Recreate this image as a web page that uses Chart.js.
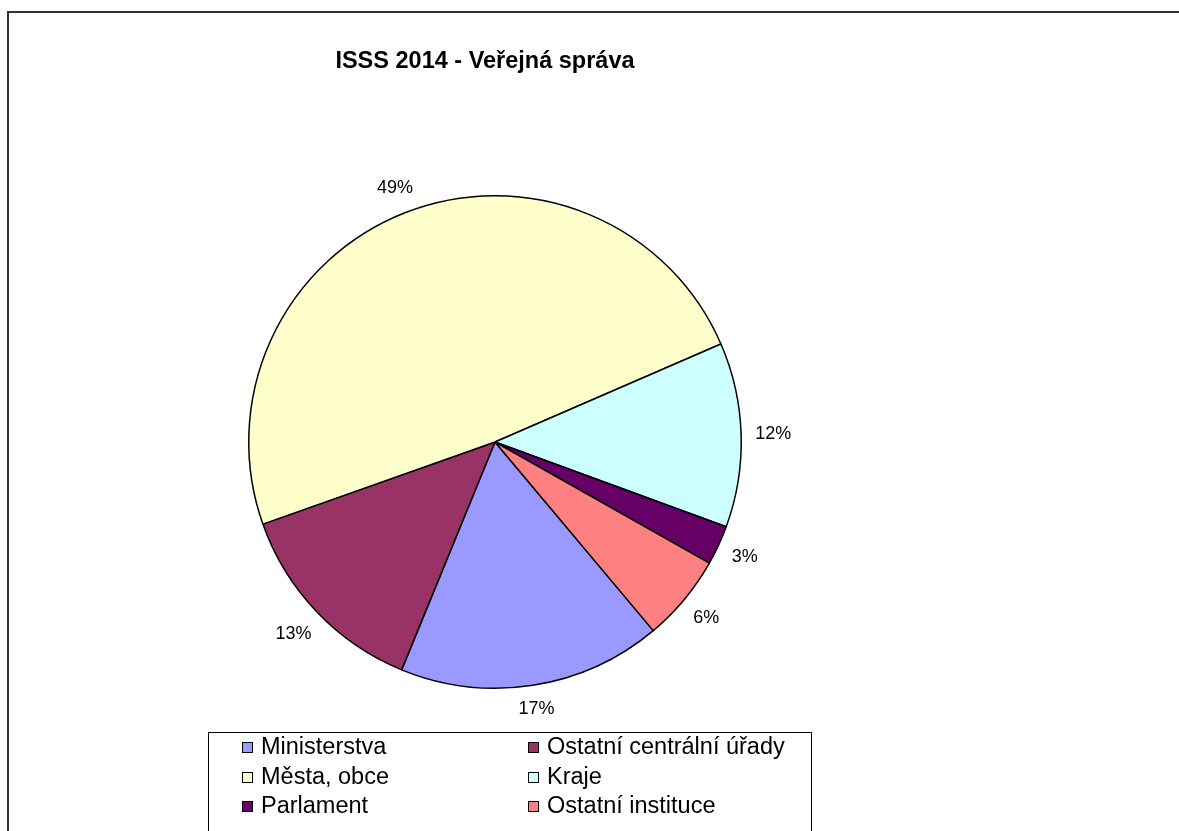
<!DOCTYPE html>
<html>
<head>
<meta charset="utf-8">
<script src="https://cdn.jsdelivr.net/npm/chart.js@4/dist/chart.umd.min.js"></script>
<style>
  html, body { margin: 0; padding: 0; background: #ffffff; }
  #wrap { width: 1179px; height: 831px; position: relative; }
</style>
</head>
<body>
<div id="wrap"><canvas id="c" width="1179" height="831"></canvas></div>
<script>
// ---- data ----
const chartTitle = 'ISSS 2014 - Veřejná správa';
const categories = ['Ministerstva', 'Ostatní centrální úřady', 'Města, obce', 'Kraje', 'Parlament', 'Ostatní instituce'];
const shares = [17.3, 13.4, 48.9, 12.1, 2.6, 5.7];
const sliceColors = ['#9999FF', '#993366', '#FFFFCC', '#CCFFFF', '#660066', '#FF8080'];

const FONT = '"Liberation Sans", Arial, Helvetica, sans-serif';

const decorPlugin = {
  id: 'decor',
  beforeDraw(chart) {
    const ctx = chart.ctx;
    ctx.save();
    ctx.fillStyle = '#ffffff';
    ctx.fillRect(0, 0, chart.width, chart.height);
    ctx.restore();
  },
  afterDraw(chart) {
    const ctx = chart.ctx;
    ctx.save();
    // outer frame
    ctx.strokeStyle = '#333333';
    ctx.lineWidth = 2;
    ctx.beginPath();
    ctx.moveTo(8, chart.height + 5);
    ctx.lineTo(8, 12);
    ctx.lineTo(chart.width + 5, 12);
    ctx.stroke();

    // title
    ctx.fillStyle = '#000000';
    ctx.font = 'bold 23.5px ' + FONT;
    ctx.textAlign = 'center';
    ctx.textBaseline = 'middle';
    ctx.fillText(chartTitle, 485, 62);

    // data labels
    const meta = chart.getDatasetMeta(0);
    const values = chart.data.datasets[0].data;
    const total = values.reduce((a, b) => a + b, 0);
    ctx.font = '18px ' + FONT;
    meta.data.forEach((arc, i) => {
      const p = arc.getProps(['x', 'y', 'startAngle', 'endAngle', 'outerRadius'], true);
      const mid = (p.startAngle + p.endAngle) / 2;
      const txt = Math.round(values[i] / total * 100) + '%';
      const w = ctx.measureText(txt).width;
      const h = 14;
      const cx = Math.cos(mid), cy = Math.sin(mid);
      const d = p.outerRadius + 14 + Math.abs(cx) * w / 2 + Math.abs(cy) * h / 2;
      ctx.fillText(txt, p.x + cx * d, p.y + cy * d);
    });

    // legend
    const lx = 208.5, ly = 732.5, lw = 603;
    ctx.strokeStyle = '#000000';
    ctx.lineWidth = 1;
    ctx.beginPath();
    ctx.moveTo(lx, chart.height + 5);
    ctx.lineTo(lx, ly);
    ctx.lineTo(lx + lw, ly);
    ctx.lineTo(lx + lw, chart.height + 5);
    ctx.stroke();
    ctx.font = '23.5px ' + FONT;
    ctx.textAlign = 'left';
    const colX = [242, 528];
    const rowY = [747, 777, 806];
    chart.data.labels.forEach((lab, i) => {
      const col = i % 2, row = Math.floor(i / 2);
      const x = colX[col], y = rowY[row];
      ctx.fillStyle = sliceColors[i];
      ctx.fillRect(x, y - 5, 11, 11);
      ctx.strokeStyle = '#000000';
      ctx.lineWidth = 1;
      ctx.strokeRect(x + 0.5, y - 4.5, 10, 10);
      ctx.fillStyle = '#000000';
      ctx.fillText(lab, x + 19, y + 1);
    });
    ctx.restore();
  }
};

new Chart(document.getElementById('c'), {
  type: 'pie',
  data: {
    labels: categories,
    datasets: [{
      data: shares,
      backgroundColor: sliceColors,
      borderColor: '#000000',
      borderWidth: 1.5
    }]
  },
  options: {
    responsive: false,
    animation: false,
    rotation: 140,
    layout: { padding: { left: 248, top: 195, right: 437, bottom: 142 } },
    plugins: {
      legend: { display: false },
      title: { display: false },
      tooltip: { enabled: false }
    }
  },
  plugins: [decorPlugin]
});
</script>
</body>
</html>
